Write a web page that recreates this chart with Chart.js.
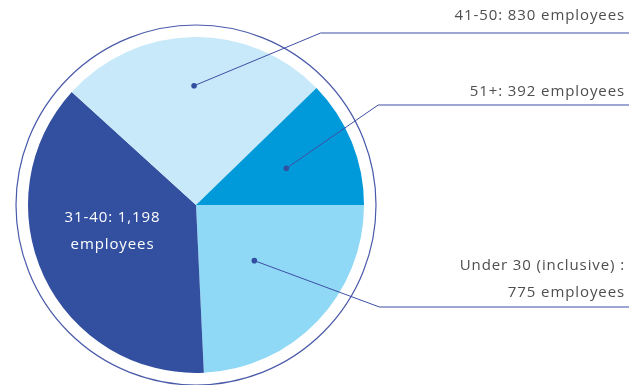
<!DOCTYPE html>
<html>
<head>
<meta charset="utf-8">
<script src="https://cdn.jsdelivr.net/npm/chart.js@4"></script>
<style>
  html, body { margin: 0; padding: 0; background: #fff; }
  #wrap { width: 629px; height: 385px; position: relative; }
</style>
</head>
<body>
<div id="wrap"><canvas id="pie"></canvas></div>
<script>
// ===== DATA =====
const categories = ["Under 30 (inclusive)", "31-40", "41-50", "51+"];
const employees  = [775, 1198, 830, 392];
const labelLines = [
  ["Under 30 (inclusive) :", "775 employees"],
  ["31-40: 1,198", "employees"],
  ["41-50: 830 employees"],
  ["51+: 392 employees"]
];
const colors = ["#8fd8f6", "#324fa0", "#c7e9f9", "#0099d9"];

// label layout: inside = white text in slice, else dot + leader line to right
const layout = [
  { r: 0.48, elbowY: 307, slope: 2.7, textY: [266, 293] },
  { inside: true, r: 0.52, angleShift: 0.14 },
  { r: 0.71, elbowY: 33, slope: 2.4, textY: [16] },
  { r: 0.58, elbowY: 105, slope: 1.45, textY: [92] }
];

const FONT = "15px 'Open Sans', sans-serif";

const labelPlugin = {
  id: "pieLabels",
  afterDatasetsDraw(chart) {
    const ctx = chart.ctx;
    const arcs = chart.getDatasetMeta(0).data;
    const W = chart.width;
    ctx.save();

    // outer ring
    const a0 = arcs[0];
    ctx.beginPath();
    ctx.arc(a0.x, a0.y, a0.outerRadius + 12, 0, Math.PI * 2);
    ctx.strokeStyle = "#4a5aaa";
    ctx.lineWidth = 1.2;
    ctx.stroke();

    arcs.forEach((arc, i) => {
      const L = layout[i];
      const mid = (arc.startAngle + arc.endAngle) / 2 + (L.angleShift || 0);
      const px = arc.x + Math.cos(mid) * arc.outerRadius * L.r;
      const py = arc.y + Math.sin(mid) * arc.outerRadius * L.r;
      ctx.font = FONT;
      ctx.letterSpacing = "0.9px";
      ctx.textBaseline = "middle";

      if (L.inside) {
        ctx.fillStyle = "#ffffff";
        ctx.textAlign = "center";
        labelLines[i].forEach((t, k) => ctx.fillText(t, px, py - 13 + k * 27));
        return;
      }

      // leader line
      const dy = L.elbowY - py;
      const elbowX = px + Math.abs(dy) * L.slope;
      ctx.strokeStyle = "#3d4fa5";
      ctx.lineWidth = 1;
      ctx.beginPath();
      ctx.moveTo(px, py);
      ctx.lineTo(elbowX, L.elbowY);
      ctx.lineTo(W, L.elbowY);
      ctx.stroke();

      ctx.fillStyle = "#324fa0";
      ctx.beginPath();
      ctx.arc(px, py, 2.8, 0, Math.PI * 2);
      ctx.fill();

      ctx.fillStyle = "#4d4e50";
      ctx.textAlign = "right";
      labelLines[i].forEach((t, k) => ctx.fillText(t, W - 4, L.textY[k]));
    });
    ctx.restore();
  }
};

new Chart(document.getElementById("pie"), {
  type: "pie",
  data: {
    labels: categories,
    datasets: [{
      data: employees,
      backgroundColor: colors,
      borderWidth: 0
    }]
  },
  options: {
    responsive: true,
    maintainAspectRatio: false,
    animation: false,
    rotation: 90,
    layout: { padding: { left: 28, top: 37, right: 265, bottom: 12 } },
    plugins: {
      legend: { display: false },
      tooltip: { enabled: false }
    }
  },
  plugins: [labelPlugin]
});
</script>
</body>
</html>
